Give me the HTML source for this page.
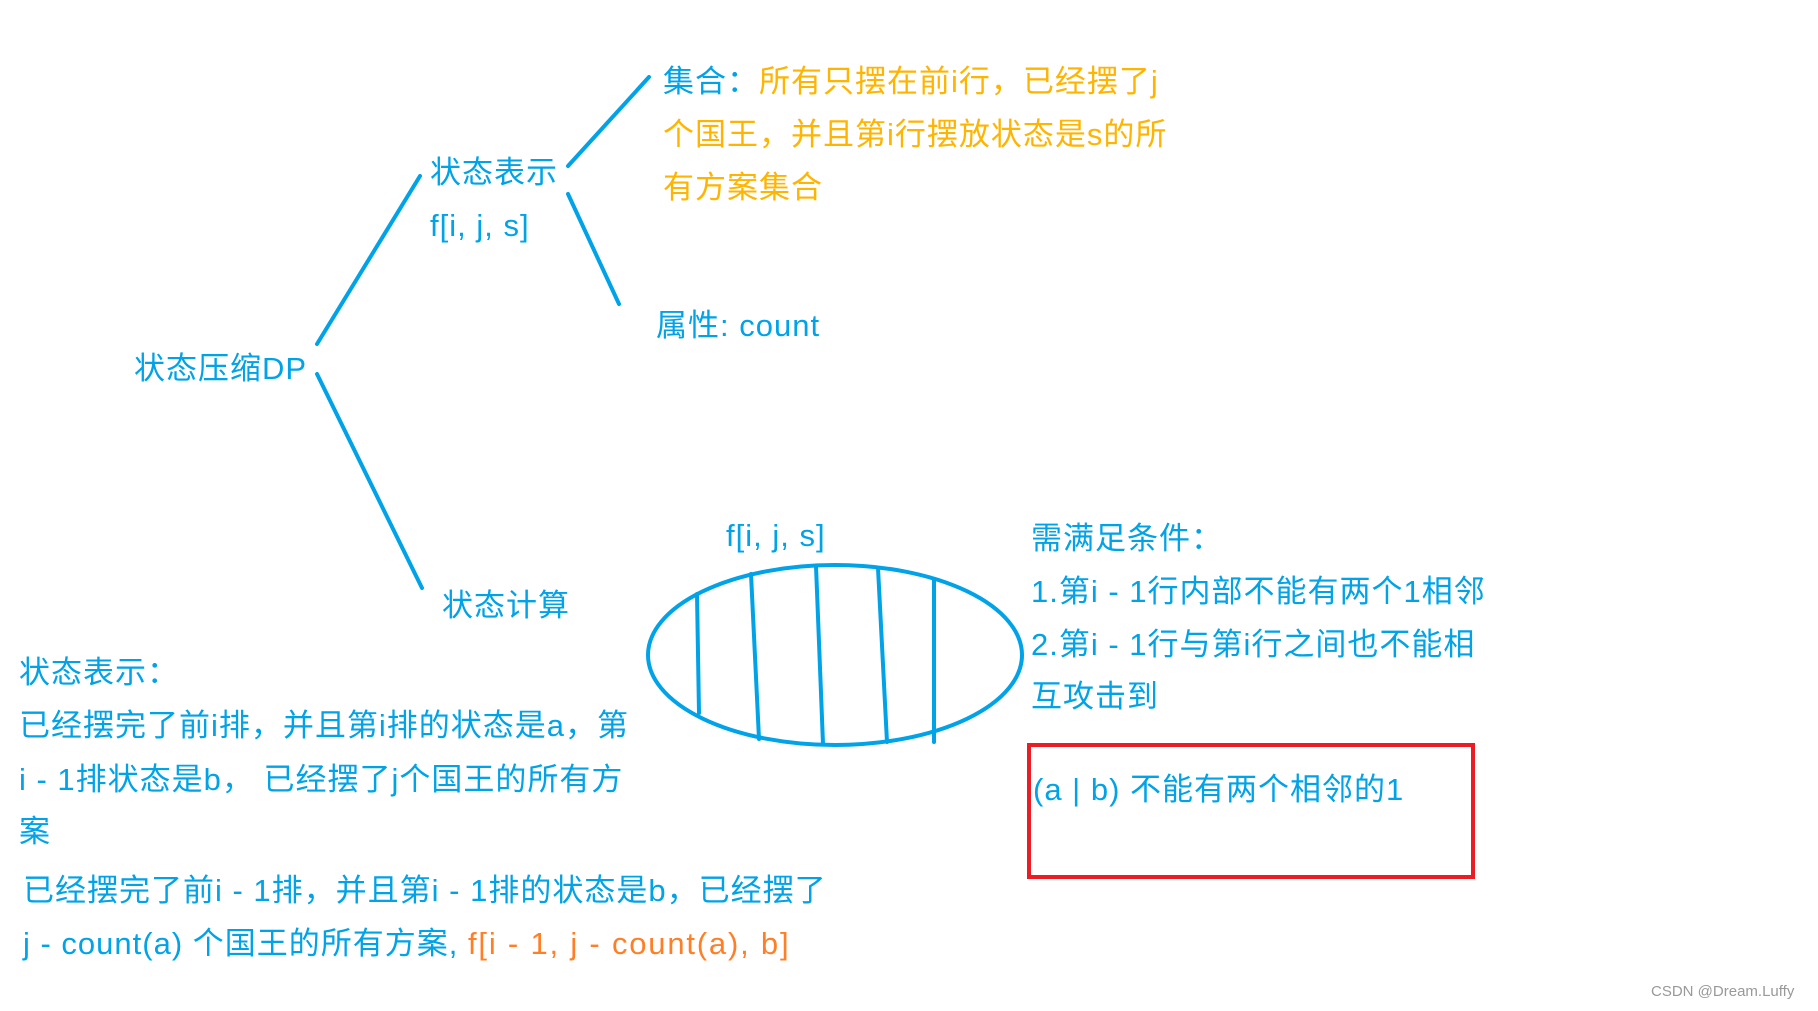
<!DOCTYPE html>
<html><head><meta charset="utf-8"><style>
body{margin:0;width:1818px;height:1011px;background:#fff;position:relative;overflow:hidden;font-family:"Liberation Sans","Noto Sans CJK SC",sans-serif;}
.t{position:absolute;font-size:31px;line-height:30px;letter-spacing:1px;white-space:nowrap;color:#00a2e8;}
.y{color:#ffb400}.o{color:#ff7f27}
svg{position:absolute;left:0;top:0}
</style></head><body>
<svg width="1818" height="1011">
<g stroke="#00a2e8" stroke-width="4" fill="none" stroke-linecap="round">
<line x1="649" y1="77" x2="568" y2="166"/>
<line x1="568" y1="194" x2="619" y2="304"/>
<line x1="420" y1="176" x2="317" y2="344"/>
<line x1="317" y1="374" x2="422" y2="588"/>
<ellipse cx="835" cy="655" rx="187" ry="90"/>
<line x1="697" y1="594" x2="699" y2="713"/>
<line x1="751" y1="574" x2="759" y2="739"/>
<line x1="816" y1="566" x2="823" y2="744"/>
<line x1="878" y1="568" x2="887" y2="742"/>
<line x1="934" y1="580" x2="934" y2="742"/>
</g>
<rect x="1029" y="745" width="444" height="132" fill="none" stroke="#ed1c24" stroke-width="4"/>
</svg>
<div class="t" style="left:663px;top:67px"><span>集合：</span><span class="y">所有只摆在前i行，已经摆了j</span></div>
<div class="t y" style="left:663px;top:120px">个国王，并且第i行摆放状态是s的所</div>
<div class="t y" style="left:663px;top:173px">有方案集合</div>
<div class="t" style="left:430px;top:158px">状态表示</div>
<div class="t" style="left:430px;top:211px">f[i, j, s]</div>
<div class="t" style="left:656px;top:311px">属性: count</div>
<div class="t" style="left:134px;top:354px">状态压缩DP</div>
<div class="t" style="left:442px;top:591px">状态计算</div>
<div class="t" style="left:726px;top:521px">f[i, j, s]</div>
<div class="t" style="left:1031px;top:524px">需满足条件：</div>
<div class="t" style="left:1031px;top:577px">1.第i - 1行内部不能有两个1相邻</div>
<div class="t" style="left:1031px;top:630px">2.第i - 1行与第i行之间也不能相</div>
<div class="t" style="left:1031px;top:682px">互攻击到</div>
<div class="t" style="left:1033px;top:775px">(a | b) 不能有两个相邻的1</div>
<div class="t" style="left:19px;top:658px">状态表示：</div>
<div class="t" style="left:19px;top:711px">已经摆完了前i排，并且第i排的状态是a，第</div>
<div class="t" style="left:19px;top:765px">i - 1排状态是b， 已经摆了j个国王的所有方</div>
<div class="t" style="left:19px;top:817px">案</div>
<div class="t" style="left:23px;top:876px">已经摆完了前i - 1排，并且第i - 1排的状态是b，已经摆了</div>
<div class="t" style="left:23px;top:929px">j - count(a) 个国王的所有方案, <span class="o" style="letter-spacing:1.8px">f[i - 1, j - count(a), b]</span></div>
<div class="t" style="left:1651px;top:984px;font-size:15px;line-height:16px;letter-spacing:0;color:#999">CSDN @Dream.Luffy</div>
</body></html>
